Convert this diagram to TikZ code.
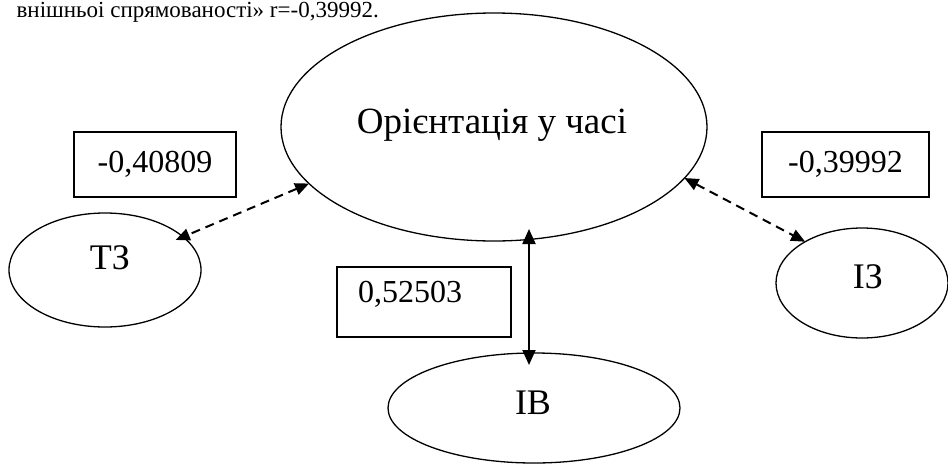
\documentclass[tikz,border=0pt]{standalone}
\usepackage{fontspec}
\setmainfont{Liberation Serif}
\usetikzlibrary{shapes.geometric,arrows.meta}
\begin{document}
\begin{tikzpicture}[x=1pt,y=-1pt,
  oval/.style={ellipse,draw,line width=1.3pt,inner sep=0pt,outer sep=0pt},
  numbox/.style={rectangle,draw,line width=1.3pt,inner sep=0pt,outer sep=0pt,font=\fontsize{32}{38}\selectfont},
  lbl/.style={inner sep=0pt,font=\fontsize{36}{43}\selectfont},
  solidarr/.style={line width=2pt,{Triangle[length=15pt,width=13pt]}-{Triangle[length=15pt,width=13pt]}},
  dasharr/.style={line width=2pt,dash pattern=on 9pt off 6pt,{Triangle[length=14pt,width=12pt]}-{Triangle[length=14pt,width=12pt]}}
]
\useasboundingbox (0,0) rectangle (948,464);

% caption fragment
\node[anchor=base east,inner sep=0pt,font=\fontsize{23}{27}\selectfont] (cap) at (379,17) {внішньоі спрямованості» r=-0,39992.};

% ellipses
\node[oval,minimum width=426pt,minimum height=228pt] (big) at (494,127) {};
\node[lbl,font=\fontsize{37}{44}\selectfont] (bigt) at (492,125) {Орієнтація у часі};

\node[oval,minimum width=192pt,minimum height=114pt] (tz) at (105,270) {};
\node[lbl] (tzt) at (110,258) {ТЗ};

\node[oval,minimum width=172pt,minimum height=110pt] (iz) at (862,283) {};
\node[lbl] (izt) at (868,277) {ІЗ};

\node[oval,minimum width=292pt,minimum height=110pt] (ib) at (534,408) {};
\node[lbl] (ibt) at (533,403) {ІВ};

% coefficient boxes
\node[numbox,minimum width=162pt,minimum height=65pt] (b1) at (155,164.5) {-0,40809};
\node[numbox,minimum width=167pt,minimum height=65pt] (b2) at (845.5,164.5) {-0,39992};
\node[numbox,minimum width=174pt,minimum height=70pt,text width=132pt,align=left,inner xsep=21pt,text depth=20pt,text height=21pt] (b3) at (424,302) {0,52503};

% connectors
\draw[dasharr,shorten >=-8pt] (big.197) -- (tz.23);
\draw[dasharr] (big.345) -- (iz.144);
\draw[solidarr,shorten <=-12pt,shorten >=-12pt] ([xshift=-5pt]ib.north) -- ([xshift=-5pt]ib.north |- big.south);
\end{tikzpicture}
\end{document}
